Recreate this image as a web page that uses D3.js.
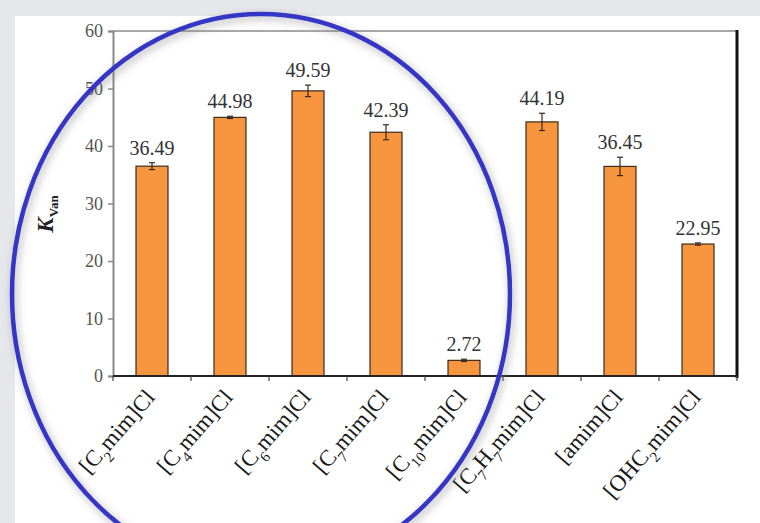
<!DOCTYPE html>
<html>
<head>
<meta charset="utf-8">
<script src="https://cdn.jsdelivr.net/npm/d3@7"></script>
<style>
  html, body { margin: 0; padding: 0; background: #e6e7ea; }
  svg { display: block; }
</style>
</head>
<body>
<svg id="chart" width="760" height="523"></svg>
<script>
// Vanillin partition coefficient for each ionic liquid
const categories = ["[C2mim]Cl", "[C4mim]Cl", "[C6mim]Cl", "[C7mim]Cl", "[C10mim]Cl", "[C7H7mim]Cl", "[amim]Cl", "[OHC2mim]Cl"];
const values = [36.49, 44.98, 49.59, 42.39, 2.72, 44.19, 36.45, 22.95];
const errors = [0.6, 0.2, 1.0, 1.3, 0.2, 1.5, 1.6, 0.2];
const yTicks = [0, 10, 20, 30, 40, 50, 60];

const data = categories.map((c, i) => ({ name: c, value: values[i], err: errors[i] }));

const W = 760, H = 523;
const plot = { left: 113, right: 737, top: 31, bottom: 376 };
const serif = "'Liberation Serif', 'DejaVu Serif', serif";

const svg = d3.select("#chart");

// page panel
svg.append("rect").attr("x", 0).attr("y", 0).attr("width", W).attr("height", H).attr("fill", "#e6e7ea");
svg.append("rect").attr("x", 15).attr("y", 16).attr("width", W - 15).attr("height", H - 16).attr("fill", "#ffffff");

const x = d3.scaleBand()
  .domain(categories)
  .range([plot.left, plot.right])
  .paddingInner(0.59)
  .paddingOuter(0.295);

const y = d3.scaleLinear().domain([0, 60]).range([plot.bottom, plot.top]);

// frame: top line and heavy right border
svg.append("line")
  .attr("x1", plot.left).attr("x2", plot.right)
  .attr("y1", y(60)).attr("y2", y(60))
  .attr("stroke", "#8a8a8a").attr("stroke-width", 1.5);
svg.append("line")
  .attr("x1", plot.right).attr("x2", plot.right)
  .attr("y1", y(60) - 1).attr("y2", y(0) + 2)
  .attr("stroke", "#111").attr("stroke-width", 3);

// y axis
const yAxis = svg.append("g")
  .attr("transform", `translate(${plot.left},0)`)
  .call(d3.axisLeft(y).tickValues(yTicks).tickSize(5).tickPadding(5));
yAxis.select(".domain").attr("stroke", "#8a8a8a").attr("stroke-width", 2);
yAxis.selectAll(".tick line").attr("stroke", "#8a8a8a").attr("stroke-width", 1.5);
yAxis.selectAll(".tick text")
  .attr("font-family", serif).attr("font-size", 18).attr("fill", "#555");

// y axis title: K with subscript Van
const yTitle = svg.append("text")
  .attr("transform", "translate(53,214) rotate(-90)")
  .attr("text-anchor", "middle")
  .attr("font-family", serif)
  .attr("font-weight", "bold")
  .attr("fill", "#222");
yTitle.append("tspan").attr("font-style", "italic").attr("font-size", 23).text("K");
yTitle.append("tspan").attr("font-size", 13).attr("dy", 5).text("Van");

// bars
svg.append("g").selectAll("rect")
  .data(data)
  .join("rect")
  .attr("x", d => x(d.name))
  .attr("y", d => y(d.value))
  .attr("width", x.bandwidth())
  .attr("height", d => y(0) - y(d.value))
  .attr("fill", "#f7963f")
  .attr("stroke", "#3a2a1c")
  .attr("stroke-width", 1.2);

// error bars
const eb = svg.append("g").attr("stroke", "#3a2a1c").attr("stroke-width", 1.2);
data.forEach(d => {
  const cx = x(d.name) + x.bandwidth() / 2;
  eb.append("line").attr("x1", cx).attr("x2", cx).attr("y1", y(d.value + d.err)).attr("y2", y(d.value - d.err));
  eb.append("line").attr("x1", cx - 3).attr("x2", cx + 3).attr("y1", y(d.value + d.err)).attr("y2", y(d.value + d.err));
  eb.append("line").attr("x1", cx - 3).attr("x2", cx + 3).attr("y1", y(d.value - d.err)).attr("y2", y(d.value - d.err));
});

// value labels
svg.append("g").selectAll("text")
  .data(data)
  .join("text")
  .attr("x", d => x(d.name) + x.bandwidth() / 2)
  .attr("y", d => y(d.value + d.err) - 8)
  .attr("text-anchor", "middle")
  .attr("font-family", serif)
  .attr("font-size", 20)
  .attr("fill", "#333")
  .text(d => d.value.toFixed(2));

// x axis baseline and separators between categories
svg.append("line")
  .attr("x1", plot.left).attr("x2", plot.right)
  .attr("y1", y(0)).attr("y2", y(0))
  .attr("stroke", "#222").attr("stroke-width", 2);
const step = x.step();
const bounds = d3.range(categories.length + 1).map(i => plot.left + i * step);
svg.append("g").selectAll("line")
  .data(bounds)
  .join("line")
  .attr("x1", d => d).attr("x2", d => d)
  .attr("y1", y(0)).attr("y2", y(0) + 5)
  .attr("stroke", "#444").attr("stroke-width", 1.2);

// category labels with subscripted digits
const xl = svg.append("g");
data.forEach(d => {
  const cx = x(d.name) + x.bandwidth() / 2;
  const t = xl.append("text")
    .attr("transform", `translate(${cx + 4},${y(0) + 22}) rotate(-49)`)
    .attr("text-anchor", "end")
    .attr("font-family", serif)
    .attr("font-size", 23)
    .attr("fill", "#1a1a1a");
  const parts = d.name.split(/(\d+)/).filter(s => s.length);
  parts.forEach(p => {
    if (/^\d+$/.test(p)) {
      t.append("tspan").attr("font-size", 15).attr("baseline-shift", "sub").text(p);
    } else {
      t.append("tspan").text(p);
    }
  });
});

// highlight ring around the alkyl-chain series
const defs = svg.append("defs");
const f = defs.append("filter").attr("id", "ringShadow")
  .attr("x", "-20%").attr("y", "-20%").attr("width", "140%").attr("height", "140%");
f.append("feDropShadow").attr("dx", 2).attr("dy", 3).attr("stdDeviation", 4)
  .attr("flood-color", "#777").attr("flood-opacity", 0.6);

svg.append("ellipse")
  .attr("cx", 261).attr("cy", 294)
  .attr("rx", 249).attr("ry", 280)
  .attr("fill", "none")
  .attr("stroke", "#3434c6")
  .attr("stroke-width", 4.5)
  .attr("filter", "url(#ringShadow)");
</script>
</body>
</html>
